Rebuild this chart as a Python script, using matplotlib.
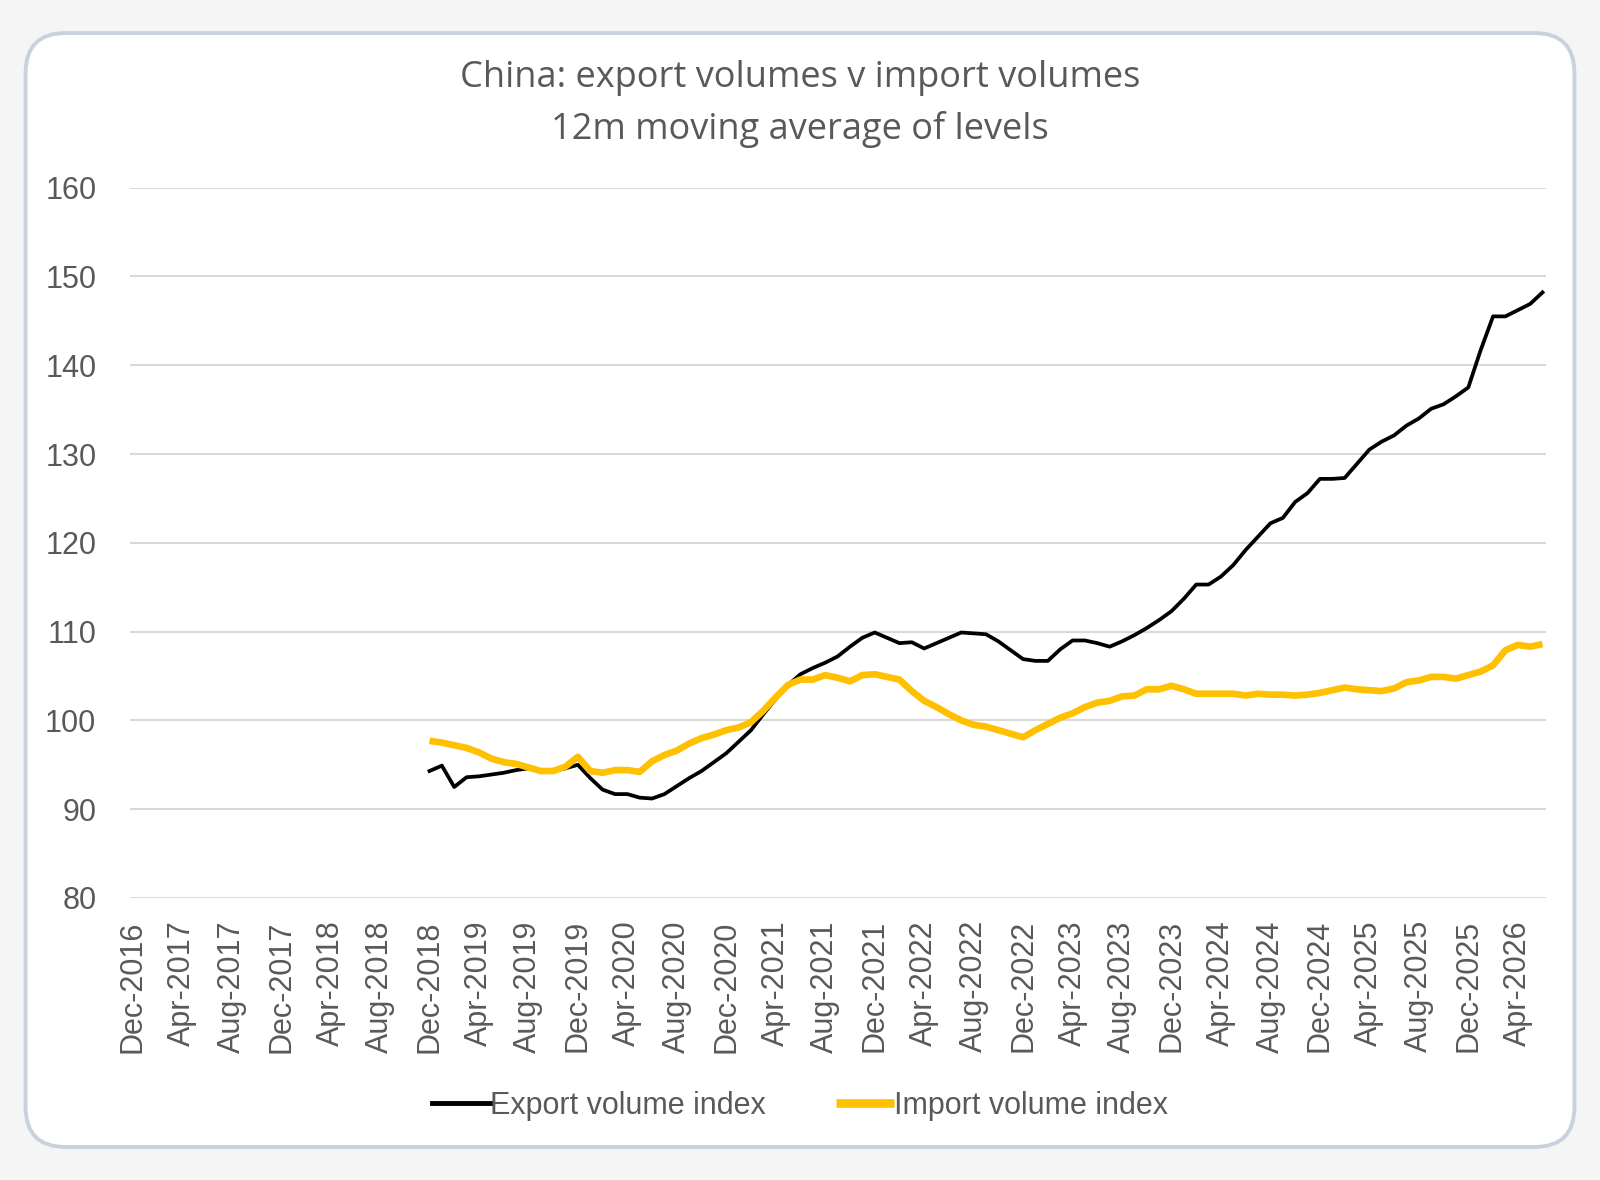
import numpy as np
import pandas as pd
import matplotlib
matplotlib.use('Agg')
import matplotlib.pyplot as plt
from matplotlib.patches import FancyBboxPatch

# monthly categories Dec-2016 .. Jun-2026
months = pd.date_range('2016-12-01', '2026-06-01', freq='MS')
month_labels = [d.strftime('%b-%Y') for d in months]

# 12m moving average, data starts Dec-2018
export_idx = [94.3, 94.9, 92.5, 93.6, 93.7, 93.9, 94.1, 94.4, 94.6, 94.4,
              94.3, 94.6, 95.0, 93.5, 92.2, 91.7, 91.7, 91.3, 91.2, 91.7,
              92.6, 93.5, 94.3, 95.3, 96.3, 97.6, 98.9, 100.7, 102.4, 104.0,
              105.2, 105.9, 106.5, 107.2, 108.3, 109.3, 109.9, 109.3, 108.7, 108.8,
              108.1, 108.7, 109.3, 109.9, 109.8, 109.7, 108.9, 107.9, 106.9, 106.7,
              106.7, 108.0, 109.0, 109.0, 108.7, 108.3, 108.9, 109.6, 110.4, 111.3,
              112.3, 113.7, 115.3, 115.3, 116.2, 117.5, 119.2, 120.7, 122.2, 122.8,
              124.6, 125.6, 127.2, 127.2, 127.3, 128.9, 130.5, 131.4, 132.1, 133.2,
              134.0, 135.1, 135.6, 136.5, 137.5, 141.7, 145.5, 145.5, 146.2, 146.9,
              148.2]
import_idx = [97.7, 97.5, 97.2, 96.9, 96.4, 95.7, 95.3, 95.1, 94.7, 94.3,
              94.3, 94.8, 95.9, 94.3, 94.1, 94.4, 94.4, 94.2, 95.4, 96.1,
              96.6, 97.4, 98.0, 98.4, 98.9, 99.2, 99.8, 101.1, 102.6, 104.0,
              104.6, 104.6, 105.1, 104.8, 104.4, 105.1, 105.2, 104.9, 104.6, 103.3,
              102.2, 101.5, 100.7, 100.0, 99.5, 99.3, 98.9, 98.5, 98.1, 98.9,
              99.6, 100.3, 100.8, 101.5, 102.0, 102.2, 102.7, 102.8, 103.5, 103.5,
              103.9, 103.5, 103.0, 103.0, 103.0, 103.0, 102.8, 103.0, 102.9, 102.9,
              102.8, 102.9, 103.1, 103.4, 103.7, 103.5, 103.4, 103.3, 103.6, 104.3,
              104.5, 104.9, 104.9, 104.7, 105.1, 105.5, 106.2, 107.9, 108.5, 108.3,
              108.6]

n_pad = len(months) - len(export_idx)
exp = np.r_[np.full(n_pad, np.nan), export_idx]
imp = np.r_[np.full(n_pad, np.nan), import_idx]
x = np.arange(len(months))

grey = '#595959'
fig = plt.figure(figsize=(16, 11.8), dpi=100, facecolor='#f5f5f5')

# rounded card behind the chart
card = FancyBboxPatch((0.016, 0.028), 0.968, 0.944,
                      boxstyle='round,pad=0,rounding_size=0.025',
                      transform=fig.transFigure, facecolor='white',
                      edgecolor='#c9d2dc', linewidth=2.8, mutation_aspect=1600/1180,
                      zorder=-5)
fig.patches.append(card)

ax = fig.add_axes([0.081, 0.239, 0.885, 0.602])
ax.set_zorder(2)
ax.set_facecolor('none')
ax.plot(x, exp, color='black', lw=2.7, label='Export volume index')
ax.plot(x, imp, color='#FFC000', lw=4.8, label='Import volume index', solid_capstyle='butt')

ax.set_ylim(80, 160)
ax.set_yticks(range(80, 161, 10))
ax.set_xlim(-0.25, len(months) - 1 + 0.25)
ax.set_xticks(x[::4])
ax.set_xticklabels(month_labels[::4], rotation=90)
ax.tick_params(axis='both', length=0, colors=grey, labelsize=22)
ax.tick_params(axis='y', pad=24)
ax.tick_params(axis='x', pad=16)
for lab in ax.get_xticklabels() + ax.get_yticklabels():
    lab.set_family(['Liberation Sans', 'DejaVu Sans'])
ax.grid(axis='y', color='#d9d9d9', lw=1.5)
ax.set_axisbelow(True)
for s in ax.spines.values():
    s.set_visible(False)

fig.text(0.5, 0.934, 'China: export volumes v import volumes', ha='center', va='center',
         fontsize=26, color=grey, family=['Open Sans', 'DejaVu Sans'])
fig.text(0.5, 0.890, '12m moving average of levels', ha='center', va='center',
         fontsize=26, color=grey, family=['Open Sans', 'DejaVu Sans'])

leg = fig.legend(loc='center', bbox_to_anchor=(0.5, 0.063), ncol=2, frameon=False,
                 handlelength=1.9, handletextpad=0.0, columnspacing=2.3,
                 prop={'family': ['Liberation Sans', 'DejaVu Sans'], 'size': 22})
for t in leg.get_texts():
    t.set_color(grey)
for h in leg.get_lines():
    h.set_linewidth(h.get_linewidth() * 1.3)

fig.savefig('out.png', dpi=100, facecolor=fig.get_facecolor())
